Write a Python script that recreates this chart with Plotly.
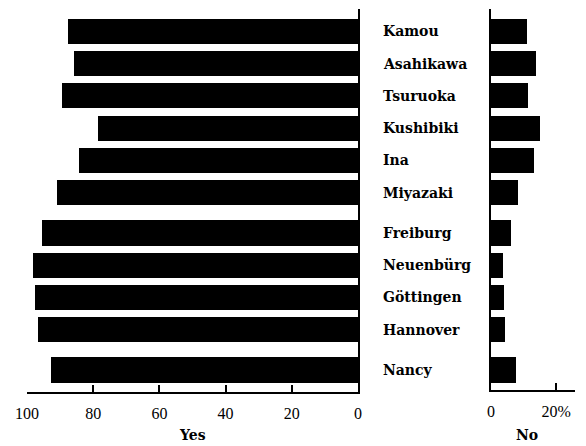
import plotly.graph_objects as go

cities = ["Kamou", "Asahikawa", "Tsuruoka", "Kushibiki", "Ina", "Miyazaki",
          "Freiburg", "Neuenbürg", "Göttingen", "Hannover", "Nancy"]
groups = [0, 0, 0, 0, 0, 0, 1, 1, 1, 1, 2]
yes_pct = [87.6, 85.8, 89.4, 78.5, 84.2, 90.9, 95.5, 98.2, 97.6, 96.7, 92.7]
no_pct = [11.1, 13.8, 11.4, 15.1, 13.2, 8.3, 6.2, 3.7, 4.0, 4.3, 7.7]
yes_ticks = [100, 80, 60, 40, 20, 0]
no_ticks = [0, 20]
no_ticktext = ["0", "20%"]

GAP = 0.256
pos = [i + g * GAP for i, g in enumerate(groups)]

# page body has an 8px margin; figure starts at (8, 8) and reaches the window edge
OFF = 8
W, H = 586 - OFF, 446 - OFF


def px(x):
    return (x - OFF) / W


def py(y):
    return 1 - (y - OFF) / H


serif = "Liberation Serif"
label_font = dict(family="DejaVu Serif", size=14, color="black", weight="bold")

fig = go.Figure()
fig.add_trace(go.Bar(x=yes_pct, y=pos, orientation="h", width=0.78,
                     marker=dict(color="black", line=dict(width=0)),
                     xaxis="x", yaxis="y", showlegend=False))
fig.add_trace(go.Bar(x=no_pct, y=pos, orientation="h", width=0.78,
                     marker=dict(color="black", line=dict(width=0)),
                     xaxis="x2", yaxis="y2", showlegend=False))

UNIT, Y0 = 32.2, 31.5
ytop, ybot = 9, 392
ytop2, ybot2 = 9, 390


def yr(top, bot):
    return [(bot - Y0) / UNIT, (top - Y0) / UNIT]


common_x = dict(showgrid=False, zeroline=False, showline=True, linecolor="black",
                linewidth=2, ticks="inside", ticklen=7, tickwidth=2, tickcolor="black",
                tickfont=dict(family=serif, size=16, color="black"),
                ticklabelstandoff=6, automargin=False)

fig.update_layout(
    template="none",
    width=W, height=H, margin=dict(l=0, r=0, t=0, b=0, pad=0, autoexpand=False),
    paper_bgcolor="white", plot_bgcolor="white", bargap=0,
    xaxis=dict(domain=[px(27), px(358)], range=[100, 0], tickvals=yes_ticks,
               anchor="y", **common_x),
    yaxis=dict(domain=[py(ybot), py(ytop)], range=yr(ytop, ybot), side="right",
               showline=True, linecolor="black", linewidth=2, showticklabels=False,
               ticks="", showgrid=False, zeroline=False, anchor="x", automargin=False),
    xaxis2=dict(domain=[px(491), px(575)], range=[0, 25.8], tickvals=no_ticks,
                ticktext=no_ticktext, anchor="y2", **common_x),
    yaxis2=dict(domain=[py(ybot2), py(ytop2)], range=yr(ytop2, ybot2),
                showline=True, linecolor="black", linewidth=2, showticklabels=False,
                ticks="", showgrid=False, zeroline=False, anchor="x2", automargin=False),
)

for c, p in zip(cities, pos):
    fig.add_annotation(text=c, x=px(381), xref="paper", xanchor="left",
                       y=p, yref="y", yanchor="middle", showarrow=False,
                       font=label_font)

fig.add_annotation(text="Yes", x=px(192), y=py(435), xref="paper", yref="paper",
                   xanchor="center", yanchor="middle", showarrow=False,
                   font=dict(family="DejaVu Serif", size=14, color="black", weight="bold"))
fig.add_annotation(text="No", x=px(527), y=py(435), xref="paper", yref="paper",
                   xanchor="center", yanchor="middle", showarrow=False,
                   font=dict(family="DejaVu Serif", size=14, color="black", weight="bold"))

fig.write_html("out.html")
